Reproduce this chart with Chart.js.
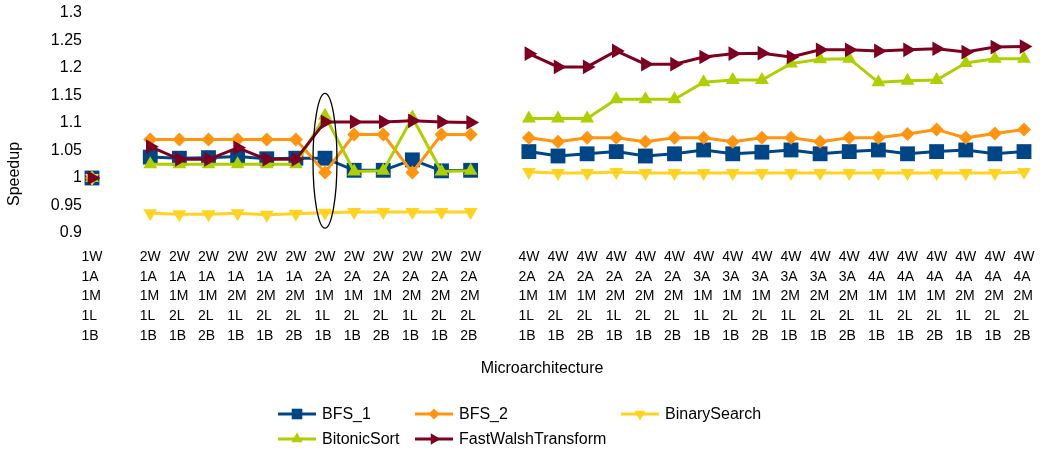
<!DOCTYPE html>
<html>
<head>
<meta charset="utf-8">
<title>Speedup by microarchitecture</title>
<script src="https://cdn.jsdelivr.net/npm/chart.js@4/dist/chart.umd.min.js"></script>
<style>
  html, body { margin: 0; padding: 0; background: #fff; }
  #wrap { width: 1041px; height: 452px; }
</style>
</head>
<body>
<div id="wrap"><canvas id="chart" width="1041" height="452"></canvas></div>
<script>
// Configurations: width / ALUs / memory units / load units / branch units ('' = spacer column)
const categories = [
  '1W 1A 1M 1L 1B', '',
  '2W 1A 1M 1L 1B', '2W 1A 1M 2L 1B', '2W 1A 1M 2L 2B',
  '2W 1A 2M 1L 1B', '2W 1A 2M 2L 1B', '2W 1A 2M 2L 2B',
  '2W 2A 1M 1L 1B', '2W 2A 1M 2L 1B', '2W 2A 1M 2L 2B',
  '2W 2A 2M 1L 1B', '2W 2A 2M 2L 1B', '2W 2A 2M 2L 2B',
  '',
  '4W 2A 1M 1L 1B', '4W 2A 1M 2L 1B', '4W 2A 1M 2L 2B',
  '4W 2A 2M 1L 1B', '4W 2A 2M 2L 1B', '4W 2A 2M 2L 2B',
  '4W 3A 1M 1L 1B', '4W 3A 1M 2L 1B', '4W 3A 1M 2L 2B',
  '4W 3A 2M 1L 1B', '4W 3A 2M 2L 1B', '4W 3A 2M 2L 2B',
  '4W 4A 1M 1L 1B', '4W 4A 1M 2L 1B', '4W 4A 1M 2L 2B',
  '4W 4A 2M 1L 1B', '4W 4A 2M 2L 1B', '4W 4A 2M 2L 2B'
];

const bfs1 = [1.000, null,
  1.038, 1.036, 1.037, 1.039, 1.035, 1.036, 1.036, 1.014, 1.014, 1.033, 1.013, 1.014,
  null,
  1.048, 1.040, 1.044, 1.048, 1.040, 1.044, 1.051, 1.044, 1.047,
  1.051, 1.044, 1.048, 1.051, 1.044, 1.048, 1.051, 1.044, 1.048];

const bfs2 = [1.000, null,
  1.070, 1.070, 1.070, 1.070, 1.070, 1.070, 1.010, 1.079, 1.079, 1.010, 1.079, 1.079,
  null,
  1.073, 1.066, 1.073, 1.073, 1.066, 1.073, 1.073, 1.066, 1.073,
  1.073, 1.066, 1.073, 1.073, 1.080, 1.088, 1.073, 1.081, 1.088];

const binarySearch = [1.000, null,
  0.936, 0.934, 0.934, 0.936, 0.933, 0.935, 0.937, 0.938, 0.938, 0.938, 0.938, 0.938,
  null,
  1.011, 1.009, 1.009, 1.011, 1.009, 1.009, 1.009, 1.009, 1.009,
  1.009, 1.009, 1.009, 1.009, 1.009, 1.009, 1.009, 1.009, 1.011];

const bitonicSort = [1.000, null,
  1.025, 1.025, 1.025, 1.025, 1.025, 1.025, 1.113, 1.012, 1.013, 1.110, 1.012, 1.013,
  null,
  1.108, 1.108, 1.108, 1.143, 1.143, 1.143, 1.174, 1.178, 1.178,
  1.208, 1.216, 1.217, 1.174, 1.177, 1.178, 1.209, 1.217, 1.217];

const fastWalshTransform = [1.000, null,
  1.057, 1.034, 1.034, 1.055, 1.034, 1.034, 1.102, 1.102, 1.102, 1.104, 1.102, 1.101,
  null,
  1.226, 1.202, 1.202, 1.231, 1.207, 1.207, 1.220, 1.226, 1.227,
  1.220, 1.233, 1.233, 1.231, 1.233, 1.235, 1.229, 1.238, 1.239];

const yMin = 0.9, yMax = 1.3, yStep = 0.05;
const highlightedIndex = 8;          // column circled in the plot
const highlightRange = [0.909, 1.154];

const FONT = "'Liberation Sans', Arial, sans-serif";
Chart.defaults.font.family = FONT;
Chart.defaults.color = '#000';

const series = [
  { label: 'BFS_1', data: bfs1, color: '#004586', style: 'rect', radius: 10.5, rot: 0, lr: 7.5 },
  { label: 'BFS_2', data: bfs2, color: '#ff950e', style: 'rectRot', radius: 7, rot: 0, lr: 5.5 },
  { label: 'BinarySearch', data: binarySearch, color: '#ffd320', style: 'triangle', radius: 8, rot: 180, lr: 6.5 },
  { label: 'BitonicSort', data: bitonicSort, color: '#aecf00', style: 'triangle', radius: 8, rot: 0, lr: 6.5 },
  { label: 'FastWalshTransform', data: fastWalshTransform, color: '#7e0021', style: 'triangle', radius: 8.5, rot: 90, lr: 6.5 }
];

// Ellipse around one configuration column
const highlightPlugin = {
  id: 'highlight',
  afterDatasetsDraw(chart) {
    const { ctx, scales: { x, y } } = chart;
    const cx = x.getPixelForValue(highlightedIndex);
    const yTop = y.getPixelForValue(highlightRange[1]);
    const yBot = y.getPixelForValue(highlightRange[0]);
    ctx.save();
    ctx.beginPath();
    ctx.ellipse(cx, (yTop + yBot) / 2, 12, (yBot - yTop) / 2, 0, 0, Math.PI * 2);
    ctx.strokeStyle = '#000';
    ctx.lineWidth = 1.3;
    ctx.stroke();
    ctx.restore();
  }
};

// Axis captions, centred on the whole diagram block
const captionPlugin = {
  id: 'captions',
  afterDraw(chart) {
    const { ctx, chartArea } = chart;
    ctx.save();
    ctx.fillStyle = '#000';
    ctx.font = '16px ' + FONT;
    ctx.textAlign = 'center';
    ctx.textBaseline = 'middle';
    ctx.fillText('Microarchitecture', (chartArea.left - 32 + chartArea.right) / 2, 369);
    ctx.translate(15, 174);
    ctx.rotate(-Math.PI / 2);
    ctx.fillText('Speedup', 0, 0);
    ctx.restore();
  }
};

// Legend laid out as a three-column grid
const gridLegendPlugin = {
  id: 'gridLegend',
  afterDraw(chart) {
    const { ctx } = chart;
    const cols = [278, 415, 621];
    const rows = [414, 439];
    ctx.save();
    series.forEach((s, i) => {
      const x0 = cols[i % 3];
      const yy = rows[Math.floor(i / 3)];
      ctx.strokeStyle = s.color;
      ctx.lineWidth = 3;
      ctx.beginPath();
      ctx.moveTo(x0, yy);
      ctx.lineTo(x0 + 38, yy);
      ctx.stroke();
      ctx.fillStyle = s.color;
      Chart.helpers.drawPoint(ctx, {
        pointStyle: s.style, radius: s.lr, rotation: s.rot, borderWidth: 0
      }, x0 + 19, yy);
      ctx.fillStyle = '#000';
      ctx.font = '16px ' + FONT;
      ctx.textAlign = 'left';
      ctx.textBaseline = 'middle';
      ctx.fillText(s.label, x0 + 44, yy + 1);
    });
    ctx.restore();
  }
};

const datasets = series.map((s, i) => ({
  label: s.label,
  data: s.data,
  borderColor: s.color,
  backgroundColor: s.color,
  borderWidth: 3,
  pointStyle: s.style,
  pointRadius: s.radius,
  pointHoverRadius: s.radius,
  pointRotation: s.rot,
  pointBorderWidth: 0,
  pointBackgroundColor: s.color,
  tension: 0,
  spanGaps: false,
  clip: false,
  order: series.length - i
}));

new Chart(document.getElementById('chart'), {
  type: 'line',
  data: {
    labels: categories.map(c => c ? c.split(' ') : ''),
    datasets
  },
  options: {
    responsive: false,
    animation: false,
    layout: { padding: { top: 13, right: 17, left: 0, bottom: 0 } },
    plugins: {
      legend: { display: false },
      tooltip: { enabled: false }
    },
    scales: {
      x: {
        type: 'category',
        offset: false,
        grid: { display: false, drawTicks: false },
        border: { display: false },
        ticks: {
          autoSkip: false,
          maxRotation: 0,
          minRotation: 0,
          align: 'start',
          labelOffset: -10.5,
          padding: 14,
          color: '#000',
          font: { size: 14, lineHeight: 1.414 }
        },
        afterFit(scale) {
          scale.height = 219;
          scale.paddingLeft = 0;
          scale.paddingRight = 0;
        }
      },
      y: {
        min: yMin,
        max: yMax,
        grid: { display: false, drawTicks: false },
        border: { display: false },
        ticks: {
          stepSize: yStep,
          padding: 10,
          color: '#000',
          font: { size: 16 },
          callback: v => String(+v.toFixed(2))
        },
        afterFit(scale) {
          scale.width = 92;
          scale.paddingTop = 0;
          scale.paddingBottom = 0;
        }
      }
    }
  },
  plugins: [highlightPlugin, captionPlugin, gridLegendPlugin]
});
</script>
</body>
</html>
